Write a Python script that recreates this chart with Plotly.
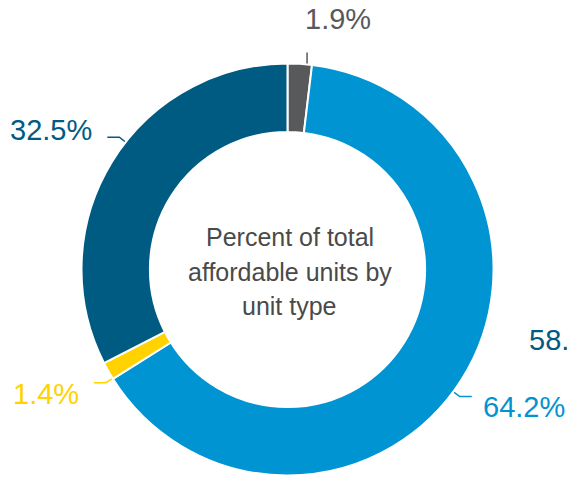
import math
import plotly.graph_objects as go

# ---------------- data ----------------
categories = ["Type A", "Type B", "Type C", "Type D"]
values = [1.9, 64.2, 1.4, 32.5]
value_labels = ["1.9%", "64.2%", "1.4%", "32.5%"]
center_lines = ["Percent of total", "affordable units by", "unit type"]
stray_label = "58.0%"

# ---------------- style ----------------
colors = ["#58595b", "#0094d3", "#ffd200", "#005b82"]
text_colors = ["#58595b", "#0094d3", "#ffd200", "#005b82"]
center_color = "#4a4a4a"
FONT = "Liberation Sans, Arial, sans-serif"
W, H = 569, 477
CX, CY, R = 287.5, 269.5, 206.0
HOLE = 0.668
label_nudge_deg = [2.0, 4.0, -2.4, 6.7]

fig = go.Figure()
fig.add_trace(go.Pie(
    labels=categories, values=values, sort=False, direction="clockwise", rotation=0,
    hole=HOLE, textinfo="none", hoverinfo="label+percent",
    marker=dict(colors=colors, line=dict(color="white", width=2)),
    domain=dict(x=[(CX - R) / W, (CX + R) / W], y=[1 - (CY + R) / H, 1 - (CY - R) / H]),
    showlegend=False,
))

total = sum(values)
cum = 0.0
shapes = []
annotations = []
for i, v in enumerate(values):
    mid = (cum + v / 2) / total * 360.0
    cum += v
    phi = math.radians(mid + label_nudge_deg[i])
    dx, dy = math.sin(phi), -math.cos(phi)
    p = (CX + (R + 1) * dx, CY + (R + 1) * dy)
    if abs(dx) < 0.3:
        e = (p[0], p[1] - 11)
        shapes.append(dict(type="path", xref="x", yref="y",
                           path=f"M{p[0]},{p[1]} L{e[0]},{e[1]}",
                           line=dict(color=colors[i], width=1.5)))
        annotations.append(dict(x=p[0] - 4, y=e[1] - 33, xref="x", yref="y",
                                text=value_labels[i], showarrow=False,
                                xanchor="left", yanchor="middle",
                                font=dict(family=FONT, size=29, color=text_colors[i])))
    else:
        sgn = 1 if dx > 0 else -1
        e = (CX + (R + 8) * dx, CY + (R + 8) * dy)
        f = (e[0] + sgn * 12, e[1])
        shapes.append(dict(type="path", xref="x", yref="y",
                           path=f"M{p[0]},{p[1]} L{e[0]},{e[1]} L{f[0]},{f[1]}",
                           line=dict(color=colors[i], width=1.5)))
        ty = f[1] + (11 if dy > 0 else -7)
        gap = 9 if sgn > 0 else 13
        annotations.append(dict(x=f[0] + sgn * gap, y=ty, xref="x", yref="y",
                                text=value_labels[i], showarrow=False,
                                xanchor="left" if sgn > 0 else "right", yanchor="middle",
                                font=dict(family=FONT, size=29, color=text_colors[i])))

for k, line in enumerate(center_lines):
    annotations.append(dict(x=CX + 2, y=237 + k * 34.5, xref="x", yref="y",
                            text=line, showarrow=False, xanchor="center", yanchor="middle",
                            font=dict(family=FONT, size=25, color=center_color)))

annotations.append(dict(x=527, y=340, xref="x", yref="y", text=stray_label,
                        showarrow=False, xanchor="left", yanchor="middle",
                        font=dict(family=FONT, size=29, color=colors[3])))

fig.update_layout(
    width=W, height=H, margin=dict(l=0, r=0, t=0, b=0),
    paper_bgcolor="white", plot_bgcolor="rgba(0,0,0,0)",
    xaxis=dict(range=[0, W], visible=False, domain=[0, 1], fixedrange=True),
    yaxis=dict(range=[H, 0], visible=False, domain=[0, 1], fixedrange=True),
    shapes=shapes, annotations=annotations,
)

fig.write_html("out.html", config={"displayModeBar": False})
